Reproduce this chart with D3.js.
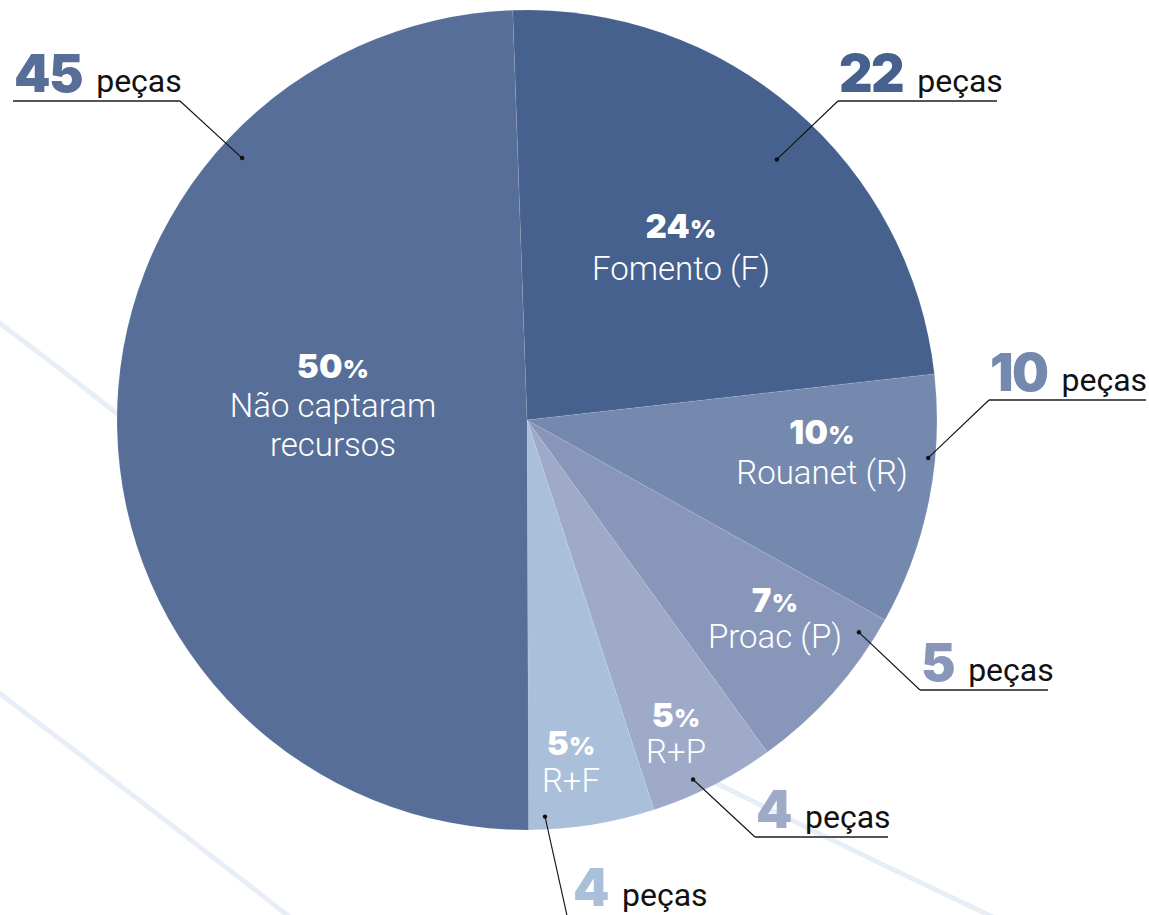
<!DOCTYPE html>
<html>
<head>
<meta charset="utf-8">
<script src="https://cdn.jsdelivr.net/npm/d3@7"></script>
<style>
  body { margin: 0; background: #fff; }
  svg { display: block; }
</style>
</head>
<body>
<svg id="chart" width="1149" height="915"></svg>
<script>
// Slice data (clockwise from the top)
const categories = ['Fomento (F)', 'Rouanet (R)', 'Proac (P)', 'R+P', 'R+F', 'Não captaram recursos'];
const percents = [24, 10, 7, 5, 5, 50];
const pieces = [22, 10, 5, 4, 4, 45];

// Colours, one per slice
const colors = ['#46618d', '#7489ad', '#8897b9', '#9eaac8', '#aac0da', '#566e98'];

// Layout
const cx = 527, cy = 420, radius = 410;
const startAngle = -2 * Math.PI / 180;
const heavyFont = 'Inter, sans-serif';

// Inner label lines (split category text) and where they sit
const innerLines = [['Fomento (F)'], ['Rouanet (R)'], ['Proac (P)'], ['R+P'], ['R+F'], ['Não captaram', 'recursos']];
const innerPos = [[681, 238], [822, 444], [775, 612], [676, 727], [571, 755], [333, 378]];
const innerGap = [42, 40, 36, 36, 37, 39];

// Callouts: dot (polar from centre), elbow point, length of underline
const dotPolar = [[43.8, 361], [95.4, 403], [122.6, 394], [155.2, 396], [177.4, 397], [-47.4, 387]];
const elbow = [[838, 101], [989, 400], [920, 690], [755, 837], [568, 920], [180, 101]];
const underlineLen = [159, 157, 128, 133, 0, -167];

const svg = d3.select('#chart');

// Faint decorative arcs in the background
const deco = svg.append('g')
    .attr('fill', 'none')
    .attr('stroke', '#e7eef7')
    .attr('stroke-width', 5);
deco.append('path').attr('d', 'M-10,316 Q60,368 140,432');
deco.append('path').attr('d', 'M-10,686 Q140,800 300,925');
deco.append('path').attr('d', 'M690,770 Q850,850 1010,925');

// Pie
const pie = d3.pie()
    .sort(null)
    .value(d => d)
    .startAngle(startAngle)
    .endAngle(startAngle + 2 * Math.PI);

const arc = d3.arc().innerRadius(0).outerRadius(radius);

const g = svg.append('g').attr('transform', `translate(${cx},${cy})`);

g.selectAll('path.slice')
    .data(pie(percents))
    .join('path')
    .attr('class', 'slice')
    .attr('d', arc)
    .attr('fill', (d, i) => colors[i])
    .attr('stroke', 'rgba(255,255,255,0.15)')
    .attr('stroke-width', 0.6);

// Inner labels: heavy percent then light category name
percents.forEach((p, i) => {
    const [x, y] = innerPos[i];
    const t = svg.append('text')
        .attr('x', x)
        .attr('y', y)
        .attr('text-anchor', 'middle')
        .attr('fill', '#fff')
        .style('font-family', heavyFont)
        .style('font-weight', 900)
        .style('font-size', '33px')
        .style('letter-spacing', '0.3px');
    t.append('tspan').text(p);
    t.append('tspan').style('font-size', '25px').text('%');

    innerLines[i].forEach((line, j) => {
        svg.append('text')
            .attr('x', x)
            .attr('y', y + innerGap[i] * (j + 1))
            .attr('text-anchor', 'middle')
            .attr('fill', '#fff')
            .style('font-family', 'Roboto, sans-serif')
            .style('font-weight', 300)
            .style('font-size', '33px')
            .text(line);
    });
});

// Callouts
const toXY = (deg, r) => {
    const a = deg * Math.PI / 180;
    return [cx + r * Math.sin(a), cy - r * Math.cos(a)];
};

pieces.forEach((n, i) => {
    const [dx, dy] = toXY(dotPolar[i][0], dotPolar[i][1]);
    const [ex, ey] = elbow[i];
    const len = underlineLen[i];

    // leader line
    svg.append('line')
        .attr('x1', dx).attr('y1', dy)
        .attr('x2', ex).attr('y2', ey)
        .attr('stroke', '#111')
        .attr('stroke-width', 1.1);
    svg.append('circle')
        .attr('cx', dx).attr('cy', dy)
        .attr('r', 2.2)
        .attr('fill', '#111');

    // underline
    if (len !== 0) {
        svg.append('line')
            .attr('x1', ex).attr('y1', ey)
            .attr('x2', ex + len).attr('y2', ey)
            .attr('stroke', '#555')
            .attr('stroke-width', 1.8);
    }

    const left = len < 0 ? ex + len : ex;
    const baseY = len === 0 ? 906 : ey - 9;
    const numX = len === 0 ? 573 : left + 1;

    const num = svg.append('text')
        .attr('x', numX)
        .attr('y', baseY)
        .attr('fill', colors[i])
        .style('font-family', heavyFont)
        .style('font-weight', 900)
        .style('font-size', '52px')
        .style('letter-spacing', '-1.5px')
        .text(n);

    const w = num.node().getComputedTextLength();
    svg.append('text')
        .attr('x', numX + w + 14)
        .attr('y', baseY)
        .attr('fill', '#111')
        .style('font-family', 'Roboto, sans-serif')
        .style('font-size', '32px')
        .text('peças');
});
</script>
</body>
</html>
